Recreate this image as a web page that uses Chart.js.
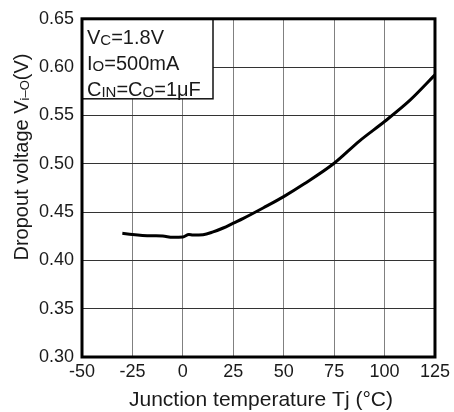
<!DOCTYPE html>
<html>
<head>
<meta charset="utf-8">
<script src="https://cdn.jsdelivr.net/npm/chart.js@4.4.1/dist/chart.umd.min.js"></script>
<style>
  html, body { margin: 0; padding: 0; background: #fff; }
  #wrap { width: 454px; height: 412px; position: relative; }
</style>
</head>
<body>
<div id="wrap"><canvas id="chart"></canvas></div>
<script>
// junction temperature (°C) and dropout voltage (V)
const temps   = [-30, -25, -20, -15, -10, -5, 0, 3, 5, 10, 15, 20, 25, 30, 40, 50, 60, 75, 87.5, 100, 112.5, 125];
const dropout = [0.428, 0.4267, 0.4258, 0.4254, 0.4252, 0.4238, 0.4242, 0.4267, 0.4262, 0.4266, 0.4295, 0.4335, 0.4385, 0.4435, 0.4545, 0.466, 0.479, 0.5005, 0.5235, 0.5437, 0.5655, 0.592];

const xTicks = [-50, -25, 0, 25, 50, 75, 100, 125];
const yTicks = [0.30, 0.35, 0.40, 0.45, 0.50, 0.55, 0.60, 0.65];

// condition box lines: [text, subscript?]
const conditions = [
  [['V', false], ['C', true], ['=1.8V', false]],
  [['I', false], ['O', true], ['=500mA', false]],
  [['C', false], ['IN', true], ['=C', false], ['O', true], ['=1μF', false]]
];

const FONT = '"Liberation Sans", Arial, sans-serif';

// draws a run of text with small subscript pieces, returns width
function drawRuns(ctx, runs, x, y, size, subSize, measureOnly) {
  let cx = x;
  for (const [txt, sub] of runs) {
    ctx.font = (sub ? subSize : size) + 'px ' + FONT;
    if (!measureOnly) ctx.fillText(txt, cx, sub ? y + 1 : y);
    cx += ctx.measureText(txt).width;
  }
  return cx - x;
}

const decorations = {
  id: 'decorations',
  afterDraw(chart) {
    const { ctx, chartArea: a } = chart;
    ctx.save();
    ctx.textBaseline = 'alphabetic';

    // condition box
    ctx.fillStyle = '#fff';
    ctx.fillRect(a.left, a.top, 131, 80);
    ctx.strokeStyle = '#111';
    ctx.lineWidth = 1.5;
    ctx.strokeRect(a.left, a.top, 131, 80);
    ctx.fillStyle = '#1a1a1a';
    conditions.forEach((runs, i) => {
      drawRuns(ctx, runs, a.left + 5, a.top + 25 + i * 26, 20, 15);
    });

    // frame
    ctx.strokeStyle = '#000';
    ctx.lineWidth = 3;
    ctx.strokeRect(a.left, a.top, a.right - a.left, a.bottom - a.top);

    // x title
    ctx.font = '21px ' + FONT;
    ctx.textAlign = 'center';
    ctx.fillText('Junction temperature Tj (°C)', 261, 406);

    // y title, rotated, with subscript
    const yRuns = [['Dropout voltage V', false], ['i–O', true], ['(V)', false]];
    ctx.translate(28, 157);
    ctx.rotate(-Math.PI / 2);
    ctx.textAlign = 'left';
    const w = drawRuns(ctx, yRuns, 0, 0, 20, 13, true);
    drawRuns(ctx, yRuns, -w / 2, 0, 20, 13);
    ctx.restore();
  }
};

new Chart(document.getElementById('chart'), {
  type: 'line',
  data: {
    datasets: [{
      data: temps.map((t, i) => ({ x: t, y: dropout[i] })),
      borderColor: '#000',
      borderWidth: 3,
      pointRadius: 0,
      fill: false,
      cubicInterpolationMode: 'monotone'
    }]
  },
  options: {
    responsive: true,
    maintainAspectRatio: false,
    devicePixelRatio: 1,
    animation: false,
    layout: { padding: { top: 12, right: 15, left: 0, bottom: 0 } },
    plugins: { legend: { display: false }, tooltip: { enabled: false } },
    scales: {
      x: {
        type: 'linear',
        min: -50,
        max: 125,
        afterBuildTicks: s => { s.ticks = xTicks.map(v => ({ value: v })); },
        afterFit: s => { s.height = 55; },
        ticks: {
          autoSkip: false,
          maxRotation: 0,
          padding: 4,
          color: '#1a1a1a',
          font: { family: FONT, size: 18 },
          callback: v => String(v)
        },
        grid: { color: '#808080', lineWidth: 1, drawTicks: false },
        border: { display: false }
      },
      y: {
        min: 0.30,
        max: 0.65,
        afterBuildTicks: s => { s.ticks = yTicks.map(v => ({ value: v })); },
        afterFit: s => { s.width = 82; },
        ticks: {
          autoSkip: false,
          padding: 8,
          color: '#1a1a1a',
          font: { family: FONT, size: 18 },
          callback: v => Number(v).toFixed(2)
        },
        grid: { color: '#333', lineWidth: 1, drawTicks: false },
        border: { display: false }
      }
    }
  },
  plugins: [decorations]
});
</script>
</body>
</html>
